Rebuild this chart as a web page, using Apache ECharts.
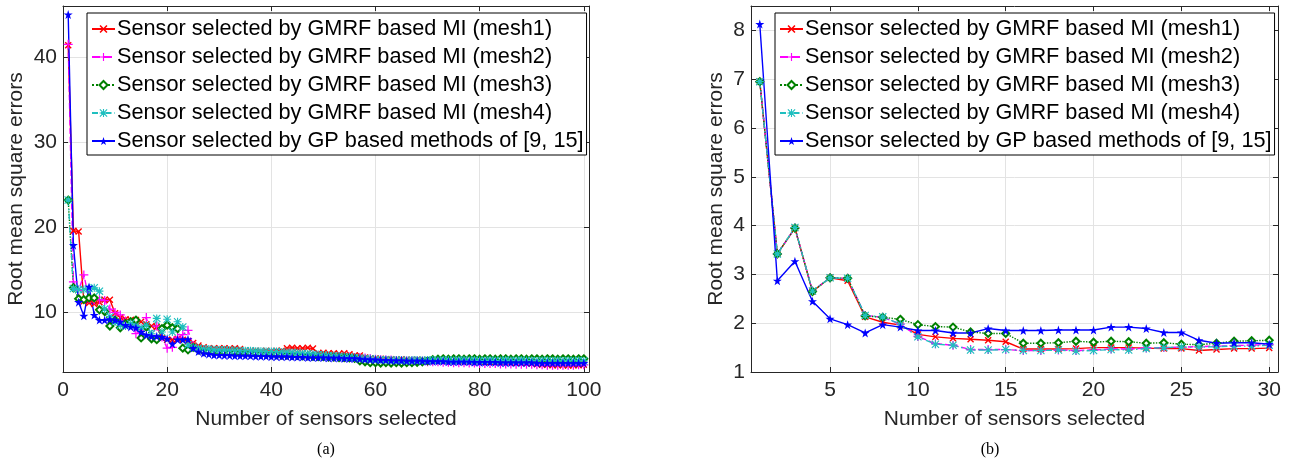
<!DOCTYPE html>
<html>
<head>
<meta charset="utf-8">
<script src="https://cdn.jsdelivr.net/npm/echarts@6/dist/echarts.min.js"></script>
<style>
  html, body { margin: 0; padding: 0; background: #fff; }
  #chart { width: 1289px; height: 463px; }
</style>
</head>
<body>
<div id="chart"></div>
<script>
let seriesNames = [
  'Sensor selected by GMRF based MI (mesh1)',
  'Sensor selected by GMRF based MI (mesh2)',
  'Sensor selected by GMRF based MI (mesh3)',
  'Sensor selected by GMRF based MI (mesh4)',
  'Sensor selected by GP based methods of [9, 15]'
];

// (a) 1..100 sensors
let mesh1A = [41.4, 19.6, 19.5, 11.3, 11.1, 11.0, 11.2, 11.5, 11.5, 9.9,
  9.4, 9.2, 9.1, 9.1, 8.9, 8.6, 8.4, 8.3, 7.0, 6.8,
  6.8, 6.9, 6.8, 6.6, 6.4, 6.1, 5.9, 5.8, 5.8, 5.8,
  5.8, 5.75, 5.8, 5.7, 5.5, 5.5, 5.5, 5.45, 5.5, 5.45,
  5.5, 5.5, 5.8, 5.85, 5.8, 5.8, 5.85, 5.75, 5.2, 5.25,
  5.2, 5.2, 5.15, 5.2, 5.1, 4.95, 4.95, 4.7, 4.6, 4.6,
  4.55, 4.5, 4.5, 4.45, 4.5, 4.45, 4.4, 4.45, 4.4, 4.4,
  4.35, 4.35, 4.3, 4.35, 4.3, 4.3, 4.3, 4.25, 4.3, 4.25,
  4.2, 4.2, 4.2, 4.15, 4.2, 4.15, 4.1, 4.1, 4.05, 4.0,
  3.9, 3.85, 3.85, 3.8, 3.8, 3.8, 3.75, 3.8, 3.8, 3.85];
let mesh2A = [41.5, 13.6, 12.6, 14.4, 11.6, 11.5, 11.5, 11.4, 10.4, 10.0,
  9.7, 9.0, 8.8, 7.5, 7.9, 9.4, 7.3, 8.4, 7.1, 5.8,
  5.9, 7.1, 7.4, 7.9, 6.1, 5.6, 5.5, 5.4, 5.3, 5.3,
  5.3, 5.25, 5.2, 5.2, 5.2, 5.2, 5.15, 5.1, 5.1, 5.1,
  5.05, 5.0, 5.0, 5.0, 4.95, 4.95, 4.9, 4.9, 4.9, 4.85,
  4.8, 4.8, 4.8, 4.75, 4.75, 4.7, 4.7, 4.65, 4.6, 4.5,
  4.45, 4.4, 4.4, 4.35, 4.35, 4.3, 4.3, 4.25, 4.25, 4.2,
  4.2, 4.2, 4.15, 4.15, 4.1, 4.1, 4.1, 4.05, 4.05, 4.0,
  4.0, 4.0, 4.0, 3.95, 3.95, 3.95, 3.9, 3.9, 3.9, 3.9,
  3.85, 3.85, 3.8, 3.8, 3.8, 3.8, 3.8, 3.8, 3.85, 3.85];
let mesh3A = [23.2, 12.9, 11.6, 11.5, 11.7, 11.7, 10.3, 10.1, 8.4, 9.1,
  8.2, 8.7, 8.9, 9.1, 7.0, 8.3, 6.9, 6.8, 8.1, 8.5,
  8.2, 8.1, 5.8, 5.6, 5.9, 5.6, 5.4, 5.4, 5.3, 5.3,
  5.3, 5.25, 5.3, 5.2, 5.2, 5.15, 5.2, 5.1, 5.1, 5.05,
  5.05, 5.0, 5.0, 4.95, 4.95, 4.9, 4.9, 4.85, 4.8, 4.8,
  4.75, 4.75, 4.7, 4.7, 4.65, 4.6, 4.3, 4.2, 4.1, 4.1,
  4.05, 4.1, 4.05, 4.1, 4.05, 4.1, 4.1, 4.15, 4.2, 4.3,
  4.45, 4.5, 4.55, 4.5, 4.55, 4.55, 4.5, 4.55, 4.55, 4.5,
  4.55, 4.55, 4.5, 4.55, 4.55, 4.5, 4.55, 4.55, 4.5, 4.55,
  4.55, 4.5, 4.55, 4.55, 4.5, 4.55, 4.55, 4.5, 4.55, 4.55];
let mesh4A = [23.2, 12.8, 12.7, 12.7, 12.8, 12.9, 12.5, 10.4, 9.5, 8.9,
  8.5, 8.4, 8.7, 8.4, 8.2, 8.5, 7.5, 9.3, 7.7, 9.2,
  7.7, 8.9, 8.3, 6.2, 5.9, 5.8, 5.7, 5.7, 5.6, 5.6,
  5.6, 5.55, 5.55, 5.5, 5.5, 5.5, 5.45, 5.45, 5.4, 5.4,
  5.4, 5.35, 5.3, 5.3, 5.25, 5.2, 5.15, 5.1, 5.05, 5.0,
  4.95, 4.9, 4.85, 4.8, 4.75, 4.7, 4.65, 4.6, 4.55, 4.5,
  4.45, 4.45, 4.4, 4.4, 4.4, 4.35, 4.4, 4.4, 4.35, 4.4,
  4.4, 4.35, 4.4, 4.4, 4.35, 4.4, 4.4, 4.35, 4.4, 4.35,
  4.35, 4.4, 4.35, 4.35, 4.4, 4.35, 4.35, 4.4, 4.35, 4.35,
  4.3, 4.35, 4.35, 4.3, 4.35, 4.3, 4.35, 4.3, 4.35, 4.3];
let gpA = [45.0, 17.9, 11.2, 9.6, 13.0, 9.7, 9.1, 9.1, 9.2, 9.1,
  8.9, 8.5, 8.3, 8.2, 7.7, 7.35, 7.2, 7.2, 7.1, 6.9,
  6.3, 6.8, 6.8, 6.85, 5.8, 5.4, 5.2, 5.1, 5.0, 5.0,
  4.95, 4.95, 4.9, 4.9, 4.9, 4.9, 4.85, 4.85, 4.85, 4.8,
  4.8, 4.8, 4.8, 4.75, 4.75, 4.75, 4.7, 4.7, 4.7, 4.7,
  4.65, 4.65, 4.65, 4.6, 4.6, 4.6, 4.55, 4.5, 4.45, 4.45,
  4.4, 4.4, 4.35, 4.35, 4.35, 4.3, 4.3, 4.3, 4.3, 4.25,
  4.25, 4.25, 4.25, 4.2, 4.2, 4.2, 4.2, 4.2, 4.15, 4.15,
  4.15, 4.15, 4.15, 4.1, 4.1, 4.1, 4.1, 4.1, 4.1, 4.1,
  4.05, 4.05, 4.05, 4.05, 4.05, 4.05, 4.05, 4.05, 4.05, 4.05];

// (b) 1..30 sensors
let mesh1B = [6.95, 3.42, 3.95, 2.65, 2.93, 2.87, 2.13, 2.02, 1.96, 1.77,
  1.72, 1.69, 1.67, 1.65, 1.62, 1.47, 1.47, 1.47, 1.48, 1.5,
  1.5, 1.5, 1.49, 1.48, 1.48, 1.44, 1.46, 1.48, 1.48, 1.49];
let mesh2B = [6.95, 3.42, 3.95, 2.66, 2.93, 2.92, 2.16, 2.12, 1.98, 1.73,
  1.58, 1.55, 1.46, 1.46, 1.46, 1.44, 1.44, 1.45, 1.44, 1.45,
  1.47, 1.47, 1.49, 1.5, 1.51, 1.52, 1.53, 1.54, 1.55, 1.56];
let mesh3B = [6.95, 3.42, 3.95, 2.65, 2.93, 2.92, 2.15, 2.12, 2.08, 1.97,
  1.93, 1.92, 1.82, 1.79, 1.79, 1.59, 1.59, 1.6, 1.63, 1.61,
  1.63, 1.62, 1.59, 1.6, 1.57, 1.56, 1.59, 1.63, 1.64, 1.65];
let mesh4B = [6.95, 3.42, 3.96, 2.66, 2.93, 2.92, 2.16, 2.13, 1.98, 1.72,
  1.57, 1.55, 1.45, 1.45, 1.46, 1.44, 1.44, 1.45, 1.43, 1.44,
  1.46, 1.45, 1.48, 1.5, 1.51, 1.51, 1.52, 1.53, 1.53, 1.55];
let gpB = [8.13, 2.87, 3.27, 2.45, 2.09, 1.97, 1.80, 1.97, 1.92, 1.85,
  1.85, 1.80, 1.80, 1.89, 1.85, 1.85, 1.85, 1.86, 1.86, 1.86,
  1.92, 1.92, 1.89, 1.81, 1.81, 1.65, 1.59, 1.6, 1.6, 1.57];

let xTicksA = [0, 20, 40, 60, 80, 100];
let yTicksA = [10, 20, 30, 40];
let xTicksB = [5, 10, 15, 20, 25, 30];
let yTicksB = [1, 2, 3, 4, 5, 6, 7, 8];

let FONT = '"Liberation Sans", Arial, Helvetica, sans-serif';
let INK = '#262626';

let MARK_X = 'path://M0,1.4L1.4,0L5,3.6L8.6,0L10,1.4L6.4,5L10,8.6L8.6,10L5,6.4L1.4,10L0,8.6L3.6,5Z';
let MARK_PLUS = 'path://M4.3,0H5.7V4.3H10V5.7H5.7V10H4.3V5.7H0V4.3H4.3Z';
let MARK_AST = 'path://M4.3,0H5.7V10H4.3Z M0,4.3H10V5.7H0Z M1,0L5,4L9,0L10,1L6,5L10,9L9,10L5,6L1,10L0,9L4,5L0,1Z';
let MARK_STAR = 'path://M5,0L6.2,3.6H10L6.9,5.9L8.1,9.5L5,7.3L1.9,9.5L3.1,5.9L0,3.6H3.8Z';

let styles = [
  { color: '#ff0000', type: 'solid', symbol: MARK_X, size: 7 },
  { color: '#ff00ff', type: 'dashed', symbol: MARK_PLUS, size: 9 },
  { color: '#008000', type: 'dotted', symbol: 'emptyDiamond', size: 7 },
  { color: '#1fbfbf', type: [6, 3, 1.5, 3], symbol: MARK_AST, size: 8 },
  { color: '#0000ff', type: 'solid', symbol: MARK_STAR, size: 9 }
];

function toPoints(values) {
  return values.map((v, i) => [i + 1, v]);
}

function makeAxis({ gridIndex, position, min, max, ticks, labels, name, nameGap }) {
  return {
    type: 'value',
    gridIndex: gridIndex,
    position: position,
    min: min,
    max: max,
    axisLine: { show: true, onZero: false, lineStyle: { color: INK, width: 1 } },
    axisTick: { show: true, inside: true, length: 5, customValues: ticks, lineStyle: { color: INK } },
    axisLabel: { show: labels, customValues: ticks, color: INK, fontSize: 21, fontFamily: FONT,
      margin: (position === 'bottom') ? 8 : 6 },
    splitLine: { show: labels, lineStyle: { color: '#e3e3e3', width: 1 } },
    name: labels ? name : '',
    nameLocation: 'middle',
    nameGap: nameGap,
    nameTextStyle: { color: INK, fontSize: 21, fontFamily: FONT }
  };
}

let chart = echarts.init(document.getElementById('chart'));

let allData = [
  [mesh1A, mesh2A, mesh3A, mesh4A, gpA],
  [mesh1B, mesh2B, mesh3B, mesh4B, gpB]
];

let series = [];
allData.forEach((group, g) => {
  group.forEach((values, k) => {
    let st = styles[k];
    series.push({
      type: 'line',
      name: seriesNames[k],
      xAxisIndex: g * 2,
      yAxisIndex: g * 2,
      data: toPoints(values),
      symbol: st.symbol,
      symbolSize: st.size,
      showSymbol: true,
      showAllSymbol: true,
      itemStyle: { color: st.color, borderColor: st.color, borderWidth: st.symbol === 'emptyDiamond' ? 1.3 : 0 },
      lineStyle: { color: st.color, width: 1.4, type: st.type },
      emphasis: { disabled: true },
      animation: false
    });
  });
});

function makeLegend(left) {
  return {
    orient: 'vertical',
    left: left,
    top: 13,
    data: seriesNames,
    backgroundColor: '#fff',
    borderColor: '#000',
    borderWidth: 1,
    padding: [5, 3, 3, 4],
    itemGap: 6,
    itemWidth: 23,
    itemHeight: 10,
    textStyle: { color: '#000', fontSize: 21.7, fontFamily: FONT, lineHeight: 21.7, padding: [0, 0, 0, -3] },
    selectedMode: false
  };
}

let option = {
  backgroundColor: '#fff',
  animation: false,
  grid: [
    { left: 63, top: 6, right: 700, bottom: 91, containLabel: false },
    { left: 751, top: 6, right: 11, bottom: 91, containLabel: false }
  ],
  xAxis: [
    makeAxis({ gridIndex: 0, position: 'bottom', min: 0, max: 101, ticks: xTicksA, labels: true,
      name: 'Number of sensors selected', nameGap: 37 }),
    makeAxis({ gridIndex: 0, position: 'top', min: 0, max: 101, ticks: xTicksA, labels: false }),
    makeAxis({ gridIndex: 1, position: 'bottom', min: 0.5, max: 30.5, ticks: xTicksB, labels: true,
      name: 'Number of sensors selected', nameGap: 37 }),
    makeAxis({ gridIndex: 1, position: 'top', min: 0.5, max: 30.5, ticks: xTicksB, labels: false })
  ],
  yAxis: [
    makeAxis({ gridIndex: 0, position: 'left', min: 3, max: 46, ticks: yTicksA, labels: true,
      name: 'Root mean square errors', nameGap: 36 }),
    makeAxis({ gridIndex: 0, position: 'right', min: 3, max: 46, ticks: yTicksA, labels: false }),
    makeAxis({ gridIndex: 1, position: 'left', min: 1, max: 8.5, ticks: yTicksB, labels: true,
      name: 'Root mean square errors', nameGap: 24 }),
    makeAxis({ gridIndex: 1, position: 'right', min: 1, max: 8.5, ticks: yTicksB, labels: false })
  ],
  legend: [makeLegend(87), makeLegend(775)],
  graphic: [
    { type: 'text', x: 326, y: 450, style: { text: '(a)', fill: '#000', font: '16px "Liberation Serif", "Times New Roman", serif', textAlign: 'center', textVerticalAlign: 'middle' } },
    { type: 'text', x: 990, y: 450, style: { text: '(b)', fill: '#000', font: '16px "Liberation Serif", "Times New Roman", serif', textAlign: 'center', textVerticalAlign: 'middle' } }
  ],
  series: series
};

chart.setOption(option);
</script>
</body>
</html>
